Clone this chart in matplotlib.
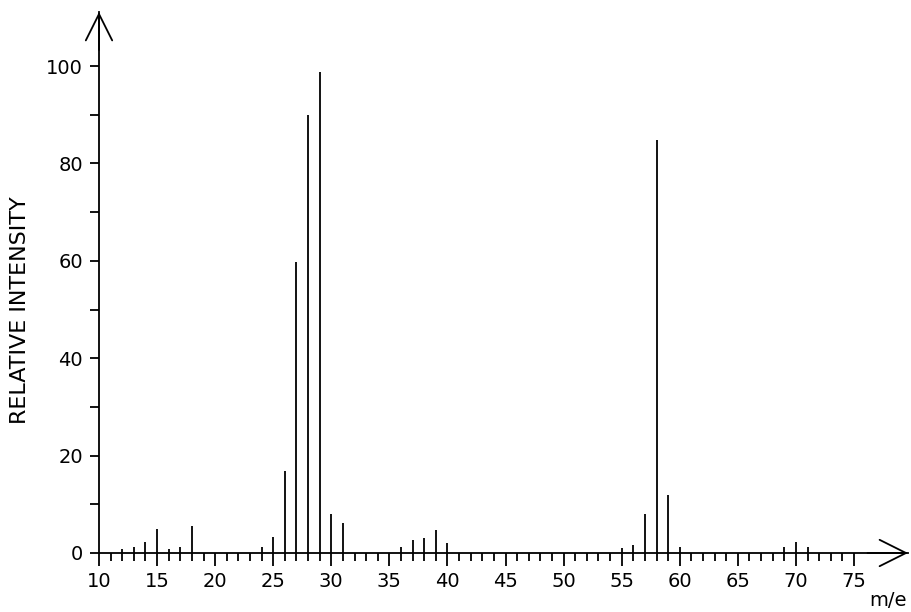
import numpy as np
import matplotlib
matplotlib.use("Agg")
import matplotlib.pyplot as plt
from matplotlib.ticker import FixedLocator

# m/e values and relative intensities
mz = [12, 13, 14, 15, 16, 17, 18, 24, 25, 26, 27, 28, 29, 30, 31,
      36, 37, 38, 39, 40, 55, 56, 57, 58, 59, 60, 69, 70, 71]
intensity = [0.8, 1.2, 2.2, 5.0, 0.8, 1.2, 5.6, 1.2, 3.2, 16.8, 59.7, 90.0, 98.8, 8.1, 6.1,
             1.2, 2.7, 3.0, 4.8, 2.0, 1.0, 1.7, 8.0, 84.8, 11.9, 1.2, 1.3, 2.2, 1.3]

x_major = list(range(10, 76, 5))
x_minor = list(range(10, 76))
y_labels = [0, 20, 40, 60, 80, 100]
y_minor = list(range(0, 101, 10))

plt.rcParams['font.family'] = ['DejaVu Sans']

fig = plt.figure(figsize=(9.11, 6.12), dpi=100)
W, H = 911, 612
x0, x1 = 99, 908
y0, y1 = 553, 12
ax = fig.add_axes([x0 / W, (H - y0) / H, (x1 - x0) / W, (y0 - y1) / H])

px_per_x = 11.615
px_per_y = 4.87
ax.set_xlim(10, 10 + (x1 - x0) / px_per_x)
ax.set_ylim(0, (y0 - y1) / px_per_y)

ax.vlines(mz, 0, intensity, color='black', linewidth=1.3)

for s in ['top', 'right']:
    ax.spines[s].set_visible(False)
ax.spines['left'].set_linewidth(1.3)
ax.spines['bottom'].set_linewidth(1.3)

# arrow heads at the ends of the axes
head = '->,head_length=1.9,head_width=0.95'
ax.annotate('', xy=(1.0, 0), xytext=(0.95, 0), xycoords='axes fraction',
            arrowprops=dict(arrowstyle=head, lw=1.3, color='black', shrinkA=0, shrinkB=0))
ax.annotate('', xy=(0, 1.0), xytext=(0, 0.93), xycoords='axes fraction',
            arrowprops=dict(arrowstyle=head, lw=1.3, color='black', shrinkA=0, shrinkB=0))

ax.xaxis.set_major_locator(FixedLocator(x_major))
ax.xaxis.set_minor_locator(FixedLocator(x_minor))
ax.set_xticklabels([str(v) for v in x_major])
ax.tick_params(axis='x', which='major', length=9, width=1.3, pad=5, labelsize=14)
ax.tick_params(axis='x', which='minor', length=5.5, width=1.3)

ax.yaxis.set_major_locator(FixedLocator(y_labels))
ax.yaxis.set_minor_locator(FixedLocator(y_minor))
ax.set_yticklabels([str(v) for v in y_labels])
ax.tick_params(axis='y', which='both', length=6.5, width=1.3, pad=5, labelsize=14)

fig.text(20 / W, 1 - 310 / H, 'RELATIVE INTENSITY', rotation=90, ha='center', va='center', fontsize=16)
fig.text(888 / W, 1 - 600 / H, 'm/e', ha='center', va='center', fontsize=14)

fig.savefig('out.png', dpi=100, facecolor='white')
